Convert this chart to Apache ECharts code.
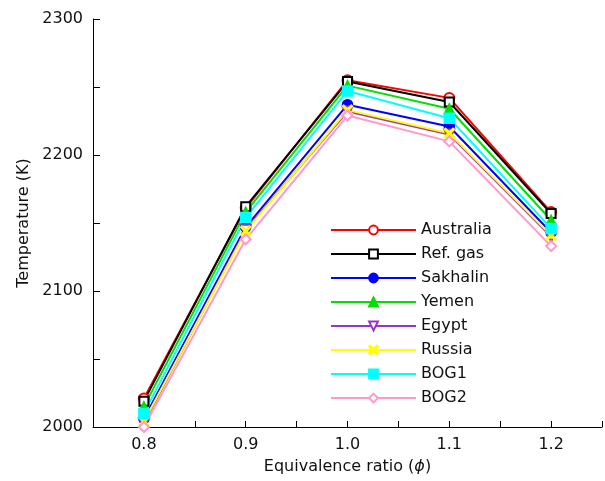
<!DOCTYPE html>
<html>
<head>
<meta charset="utf-8">
<script src="https://cdn.jsdelivr.net/npm/echarts@6/dist/echarts.min.js"></script>
<style>
  html, body { margin: 0; padding: 0; background: #fff; }
  #chart { width: 605px; height: 481px; }
</style>
</head>
<body>
<div id="chart"></div>
<script>
// Adiabatic flame temperature versus equivalence ratio for several LNG compositions
const phi = [0.8, 0.9, 1.0, 1.1, 1.2];
const xTickLabels = ['0.8', '0.9', '1.0', '1.1', '1.2'];
const yTickLabels = ['2000', '2100', '2200', '2300'];

const australia = [2021, 2161, 2255, 2242, 2158];
const refGas    = [2019, 2162, 2254, 2239, 2157];
const sakhalin  = [2006, 2147, 2237, 2221, 2143];
const yemen     = [2015, 2158, 2251, 2234, 2152];
const egypt     = [2003, 2145, 2232, 2215, 2140];
const russia    = [2004, 2144, 2233, 2216, 2141];
const bog1      = [2010, 2154, 2247, 2227, 2146];
const bog2      = [2000, 2138, 2229, 2210, 2133];

const crossPath = 'path://M0,0.12 L0.12,0 L0.5,0.38 L0.88,0 L1,0.12 L0.62,0.5 L1,0.88 L0.88,1 L0.5,0.62 L0.12,1 L0,0.88 L0.38,0.5 Z';

const seriesDefs = [
  { name: 'Australia', values: australia, color: '#ff0000', symbol: 'emptyCircle', size: 10 },
  { name: 'Ref. gas',  values: refGas,    color: '#000000', symbol: 'emptyRect',   size: 9 },
  { name: 'Sakhalin',  values: sakhalin,  color: '#0000ff', symbol: 'circle',      size: 10 },
  { name: 'Yemen',     values: yemen,     color: '#00e000', symbol: 'triangle',    size: 10 },
  { name: 'Egypt',     values: egypt,     color: '#9933cc', symbol: 'emptyTriangle', size: 10, rotate: 180 },
  { name: 'Russia',    values: russia,    color: '#ffff00', symbol: crossPath,     size: 10 },
  { name: 'BOG1',      values: bog1,      color: '#00ffff', symbol: 'rect',        size: 10 },
  { name: 'BOG2',      values: bog2,      color: '#ff99cc', symbol: 'emptyDiamond', size: 10 }
];

const font = 'DejaVu Sans';
const X_MIN = 0.75, X_MAX = 1.25, Y_MIN = 2000, Y_MAX = 2300;

const chart = echarts.init(document.getElementById('chart'), null, { renderer: 'canvas' });

// Labelled axes carry text only; the companion axes carry the inward ticks.
chart.setOption({
  backgroundColor: '#ffffff',
  animation: false,
  textStyle: { fontFamily: font },
  grid: { left: 93, top: 19, width: 523, height: 408, containLabel: false },
  legend: {
    orient: 'vertical',
    left: 325,
    top: 217,
    itemWidth: 85,
    itemHeight: 11,
    itemGap: 8,
    textStyle: { fontFamily: font, fontSize: 16, color: '#111' },
    data: seriesDefs.map(s => s.name)
  },
  xAxis: [{
    type: 'value',
    position: 'bottom',
    min: X_MIN,
    max: X_MAX,
    interval: 0.05,
    name: 'Equivalence ratio ({i|ϕ})',
    nameLocation: 'middle',
    nameGap: 32,
    nameTextStyle: {
      fontFamily: font, fontSize: 16, color: '#111',
      rich: { i: { fontFamily: font, fontSize: 16, fontStyle: 'italic', color: '#111' } }
    },
    axisLine: { show: true, onZero: false, lineStyle: { color: '#000', width: 1 } },
    axisTick: { show: false },
    splitLine: { show: false },
    axisLabel: {
      fontFamily: font, fontSize: 16, color: '#111', margin: 10,
      formatter: v => {
        const idx = phi.findIndex(p => Math.abs(p - v) < 1e-6);
        return idx >= 0 ? xTickLabels[idx] : '';
      }
    }
  }, {
    type: 'value',
    position: 'bottom',
    offset: 0,
    min: X_MIN,
    max: X_MAX,
    interval: 0.05,
    axisLine: { show: false, onZero: false },
    axisTick: { show: true, inside: true, length: 6, lineStyle: { color: '#000', width: 1 } },
    axisLabel: { show: false },
    splitLine: { show: false }
  }],
  yAxis: [{
    type: 'value',
    position: 'left',
    min: Y_MIN,
    max: Y_MAX,
    interval: 100,
    name: 'Temperature (K)',
    nameLocation: 'middle',
    nameGap: 61,
    nameTextStyle: { fontFamily: font, fontSize: 16, color: '#111' },
    axisLine: { show: true, onZero: false, lineStyle: { color: '#000', width: 1 } },
    axisTick: { show: false },
    splitLine: { show: false },
    axisLabel: {
      fontFamily: font, fontSize: 16, color: '#111', margin: 10,
      formatter: v => {
        const idx = yTickLabels.indexOf(String(Math.round(v)));
        return idx >= 0 ? yTickLabels[idx] : '';
      }
    }
  }, {
    type: 'value',
    position: 'left',
    offset: 0,
    min: Y_MIN,
    max: Y_MAX,
    interval: 50,
    axisLine: { show: false, onZero: false },
    axisTick: { show: true, inside: true, length: 7, lineStyle: { color: '#000', width: 1 } },
    axisLabel: { show: false },
    splitLine: { show: false }
  }],
  series: seriesDefs.map(s => ({
    name: s.name,
    type: 'line',
    xAxisIndex: 0,
    yAxisIndex: 0,
    data: phi.map((p, i) => [p, s.values[i]]),
    symbol: s.symbol,
    symbolSize: s.size,
    symbolRotate: s.rotate || 0,
    showAllSymbol: true,
    lineStyle: { color: s.color, width: 2 },
    itemStyle: { color: s.color, borderColor: s.color, borderWidth: 1.5 },
    emphasis: { disabled: true }
  }))
});
</script>
</body>
</html>
